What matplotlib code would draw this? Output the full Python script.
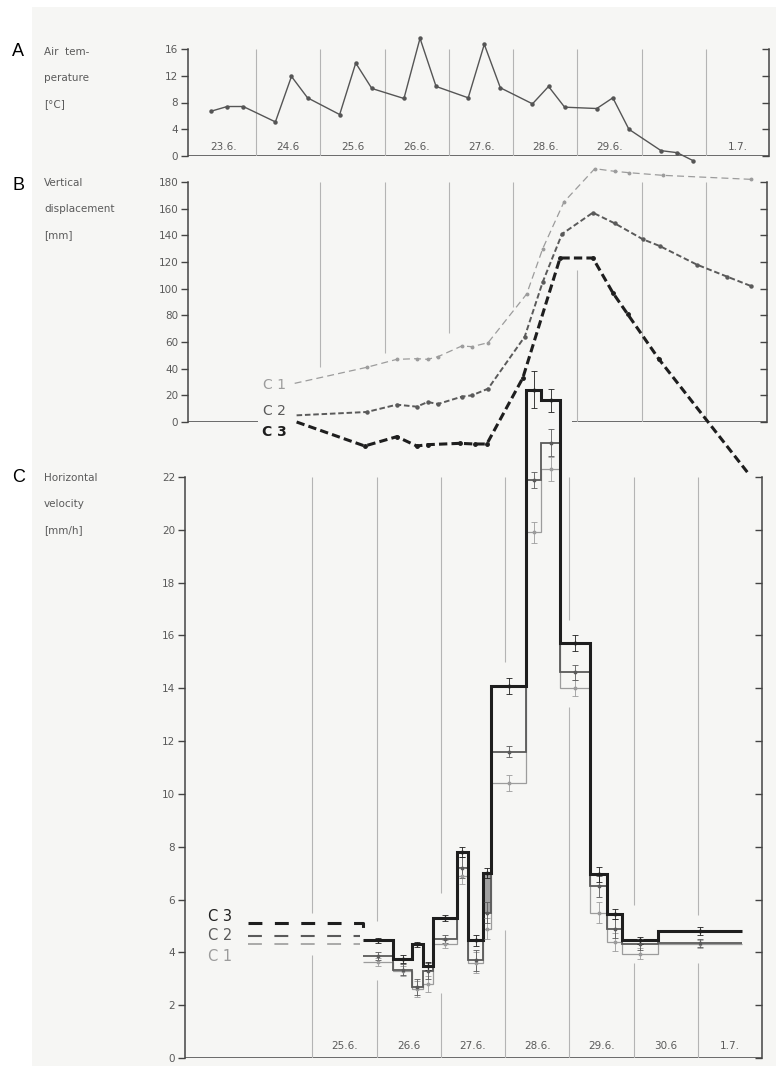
import numpy as np
import matplotlib.pyplot as plt

W, H = 776, 1066
plt.rcParams['lines.scale_dashes'] = False
plt.rcParams['font.family'] = ['DejaVu Sans']

# --- A: air temperature (x in days from 23.6. 00h) ---
temp_t = [0.3, 0.55, 0.8, 1.3, 1.55, 1.8, 2.3, 2.55, 2.8, 3.3, 3.55, 3.8,
          4.3, 4.55, 4.8, 5.3, 5.55, 5.8, 6.3, 6.55, 6.8, 7.3, 7.55, 7.8]
temp_v = [6.7, 7.4, 7.4, 5.1, 11.9, 8.7, 6.2, 13.9, 10.1, 8.6, 17.6, 10.4,
          8.7, 16.7, 10.2, 7.8, 10.4, 7.3, 7.1, 8.7, 4.0, 0.8, 0.5, -0.7]
days_a = ['23.6.', '24.6', '25.6', '26.6.', '27.6.', '28.6.', '29.6.', '1.7.']
days_a_pos = [0, 1, 2, 3, 4, 5, 6, 8]

# --- B: vertical displacement ---
c1_t = [1.60, 2.72, 3.19, 3.50, 3.67, 3.83, 4.20, 4.36, 4.61, 5.21, 5.46, 5.79,
        6.27, 6.58, 6.80, 7.33, 8.70]
c1_v = [29, 41, 47, 47.5, 47, 49, 57, 56.5, 59.5, 96, 130, 165, 190, 188, 187, 185, 182]
c2_t = [1.63, 2.72, 3.19, 3.50, 3.67, 3.83, 4.20, 4.36, 4.61, 5.18, 5.46, 5.76,
        6.24, 6.58, 7.02, 7.28, 7.86, 8.33, 8.70]
c2_v = [5, 7.5, 13, 11.5, 15, 13.5, 19, 20, 25, 64, 105, 141, 157, 149, 137, 132, 118, 109, 102]
c3_t = [1.63, 2.69, 3.19, 3.50, 3.67, 4.17, 4.40, 4.59, 5.15, 5.73, 6.24, 6.55, 6.78, 7.27, 8.65]
c3_v = [0, -18, -11, -18, -17, -16, -16.5, -16.5, 33, 123, 123, 97, 81, 47, -38]

# --- C: horizontal velocity (steps) ---
edges = [2.79, 3.26, 3.55, 3.72, 3.88, 4.25, 4.42, 4.66, 4.78, 5.33, 5.56, 5.86,
         6.32, 6.59, 6.82, 7.38, 8.69]
v3 = [4.45, 3.75, 4.3, 3.5, 5.3, 7.8, 4.45, 7.0, 14.1, 25.3, 24.9, 15.7, 6.95, 5.45, 4.45, 4.8]
v2 = [3.85, 3.35, 2.7, 3.3, 4.5, 7.2, 3.7, 5.5, 11.6, 21.9, 23.3, 14.6, 6.5, 4.9, 4.3, 4.35]
v1 = [3.65, 3.3, 2.6, 2.8, 4.3, 6.9, 3.6, 4.9, 10.4, 19.9, 22.3, 14.0, 5.5, 4.4, 3.95, 4.3]
e3 = [0.1, 0.15, 0.1, 0.15, 0.1, 0.2, 0.2, 0.2, 0.3, 0.7, 0.45, 0.3, 0.3, 0.2, 0.15, 0.15]
e2 = [0.15, 0.2, 0.3, 0.3, 0.15, 0.4, 0.4, 0.4, 0.2, 0.3, 0.5, 0.3, 0.4, 0.35, 0.2, 0.15]
e1 = [0.15, 0.2, 0.3, 0.3, 0.15, 0.3, 0.4, 0.4, 0.3, 0.4, 0.45, 0.3, 0.4, 0.35, 0.2, 0.15]
lead = {'C 3': 5.1, 'C 2': 4.62, 'C 1': 4.3}
days_c = ['25.6.', '26.6', '27.6.', '28.6.', '29.6.', '30.6', '1.7.']
days_c_pos = [2, 3, 4, 5, 6, 7, 8]

INK = '#444444'
LAB = '#5a5a5a'
GRID = '#b4b4b4'
COL = {'C 1': '#9c9c9c', 'C 2': '#5a5a5a', 'C 3': '#1e1e1e'}

fig = plt.figure(figsize=(W / 100, H / 100), dpi=100)
fig.patch.set_facecolor('white')
fig.patches.append(plt.Rectangle((32 / W, 0), 1, 1 - 7 / H, transform=fig.transFigure,
                                 facecolor='#f6f6f4', edgecolor='none', zorder=-10))


def px_axes(l, t, r, b):
    return fig.add_axes([l / W, 1 - b / H, (r - l) / W, (b - t) / H])


def style(ax, yticks, xlim):
    ax.set_xlim(xlim)
    ax.set_ylim(yticks[0], yticks[-1])
    ax.set_facecolor('none')
    for s in ['top', 'right', 'bottom']:
        ax.spines[s].set_visible(False)
    ax.spines['left'].set_color(INK)
    ax.spines['left'].set_linewidth(1.1)
    ax.set_xticks([])
    ax.set_yticks(yticks)
    ax.tick_params(axis='y', direction='out', length=5, width=1, color=INK,
                   labelcolor=LAB, labelsize=7.5, pad=2)
    sec = ax.secondary_yaxis('right')
    sec.set_yticks(yticks)
    sec.tick_params(direction='in', length=5, width=1, color=INK, labelright=False)
    sec.spines['right'].set_color(INK)
    sec.spines['right'].set_linewidth(1.1)


# panel A
axA = px_axes(188, 49, 769, 156)
style(axA, [0, 4, 8, 12, 16], (-0.06, 8.98))
axA.axhline(0, color=INK, lw=1.1)
axA.vlines(range(1, 9), 0, 16, color=GRID, lw=0.8)
axA.plot(temp_t, temp_v, color='#555555', lw=1.0, marker='o', ms=2.2, clip_on=False)
for p, s in zip(days_a_pos, days_a):
    axA.text(p + 0.5, 0.6, s, ha='center', va='bottom', fontsize=7.5, color=LAB)

# panel B
axB = px_axes(188, 182, 767, 422)
style(axB, list(range(0, 181, 20)), (-0.06, 8.95))
axB.hlines(0, -0.06, 1.03, color=INK, lw=1.1)
axB.hlines(0, 5.91, 8.95, color=INK, lw=1.1)
for d, lo, hi in [(2, 41, 180), (3, 52, 180), (4, 67, 180), (5, 86, 180),
                  (6, 0, 114), (7, 0, 180), (8, 0, 180)]:
    axB.vlines(d, lo, hi, color=GRID, lw=0.8)
axB.plot(c1_t, c1_v, color=COL['C 1'], lw=0.9, ls=(0, (5, 3)), marker='o', ms=1.8,
         markevery=list(range(1, len(c1_t))), clip_on=False)
axB.plot(c2_t, c2_v, color=COL['C 2'], lw=1.4, ls=(0, (4, 2)), marker='o', ms=2.2,
         markevery=list(range(1, len(c2_t))), clip_on=False)
axB.plot(c3_t, c3_v, color=COL['C 3'], lw=2.2, ls=(0, (6, 3)), marker='o', ms=2.5,
         markevery=list(range(1, len(c3_t) - 1)), clip_on=False)
for name, y in [('C 1', 28), ('C 2', 8.3), ('C 3', -7.5)]:
    axB.text(1.29, y, name, ha='center', va='center', fontsize=10, color=COL[name],
             fontweight='bold' if name == 'C 3' else 'normal')

# panel C
axC = px_axes(185, 477, 762, 1058)
style(axC, list(range(0, 23, 2)), (0.016, 9.0))
axC.axhline(0, color=INK, lw=1.1)
for d, lo, hi in [(2, 5.5, 22), (2, 0, 3.9), (3, 5.2, 22), (3, 0, 2.95), (4, 6.25, 22),
                  (4, 0, 2.45), (5, 15.0, 22), (5, 0, 4.85), (6, 16.6, 22), (6, 0, 13.3),
                  (7, 5.8, 22), (7, 0, 3.6), (8, 5.4, 22), (8, 0, 3.6)]:
    axC.vlines(d, lo, hi, color=GRID, lw=0.8)

edges = np.array(edges)
mid = (edges[:-1] + edges[1:]) / 2
axC.fill_between(edges[7:9], v2[7], v3[7], color='#a0a0a0', lw=0)
for vals, errs, name, lw in [(v1, e1, 'C 1', 0.9), (v2, e2, 'C 2', 1.3), (v3, e3, 'C 3', 2.2)]:
    axC.stairs(vals, edges, baseline=None, color=COL[name], lw=lw, clip_on=False)
    axC.errorbar(mid, vals, yerr=errs, fmt='o', ms=1.8, color=COL[name], elinewidth=0.6,
                 capsize=2, capthick=0.6, clip_on=False)

axC.plot([1.0, edges[0], edges[0]], [lead['C 3'], lead['C 3'], v3[0]], color=COL['C 3'],
         lw=2.2, ls=(0, (10, 9)))
axC.plot([1.0, 2.74], [lead['C 2'], lead['C 2']], color=COL['C 2'], lw=1.5, ls=(0, (10, 9)))
axC.plot([1.0, 2.74], [lead['C 1'], lead['C 1']], color=COL['C 1'], lw=1.2, ls=(0, (10, 9)))
for name, y in [('C 3', 5.35), ('C 2', 4.62), ('C 1', 3.86)]:
    axC.text(0.56, y, name, ha='center', va='center', fontsize=10.5, color=COL[name])
for p, s in zip(days_c_pos, days_c):
    axC.text(p + 0.5, 0.25, s, ha='center', va='bottom', fontsize=7.5, color=LAB)

# left-hand labels
for letter, y in [('A', 52), ('B', 186), ('C', 478)]:
    fig.text(12 / W, 1 - y / H, letter, fontsize=13, family='Liberation Sans', va='center')
for lines, y0 in [(['Air  tem-', 'perature', '[°C]'], 52),
                  (['Vertical', 'displacement', '[mm]'], 183),
                  (['Horizontal', 'velocity', '[mm/h]'], 478)]:
    for i, s in enumerate(lines):
        fig.text(44 / W, 1 - (y0 + 26 * i) / H, s, fontsize=7.5, color=LAB, va='center')

fig.savefig('out.png', dpi=100)
